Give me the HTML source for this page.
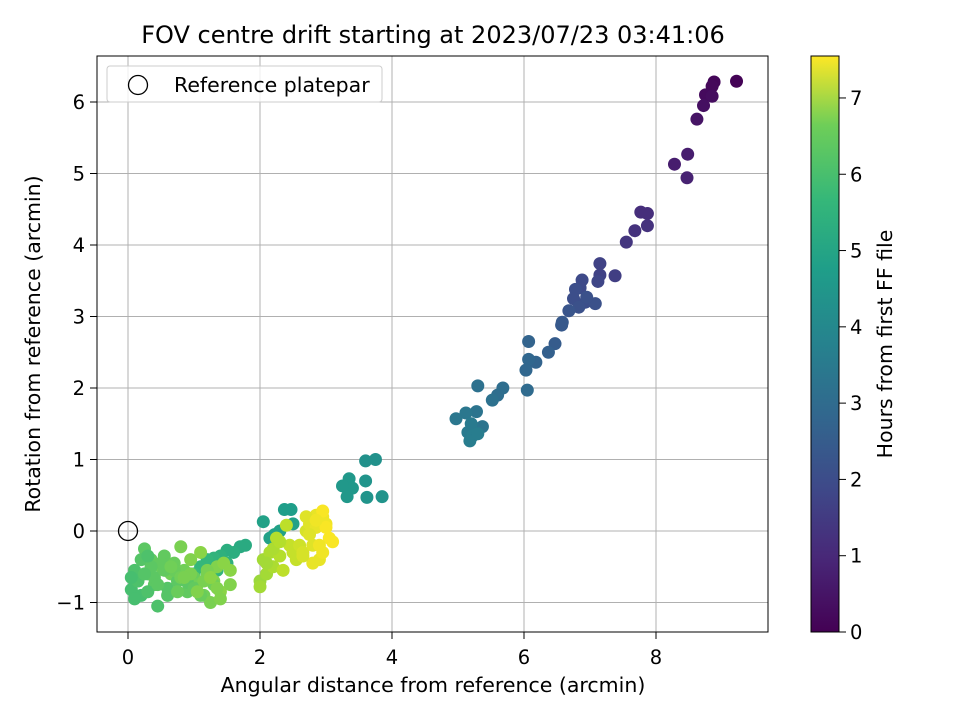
<!DOCTYPE html>
<html><head><meta charset="utf-8"><style>
body{margin:0;background:#fff;font-family:"DejaVu Sans","Liberation Sans",sans-serif}
</style></head><body>
<svg id="chart" width="960" height="720" xmlns="http://www.w3.org/2000/svg" font-family="DejaVu Sans, Liberation Sans, sans-serif">
<defs><linearGradient id="cb" x1="0" y1="1" x2="0" y2="0">
<stop offset="0" stop-color="#440154"/><stop offset="0.13" stop-color="#482878"/><stop offset="0.25" stop-color="#3e4989"/><stop offset="0.38" stop-color="#31688e"/><stop offset="0.5" stop-color="#26828e"/><stop offset="0.63" stop-color="#1f9e89"/><stop offset="0.75" stop-color="#35b779"/><stop offset="0.88" stop-color="#6ece58"/><stop offset="1" stop-color="#fde725"/></linearGradient></defs>
<text x="433" y="43" font-size="24" text-anchor="middle">FOV centre drift starting at 2023/07/23 03:41:06</text>
<g id="grid"></g>
<g id="marks"></g>
<rect x="97" y="56" width="671" height="576" fill="none" stroke="#000" stroke-width="1"/>
<g id="axes"></g>
<text x="433" y="692" font-size="20.5" text-anchor="middle">Angular distance from reference (arcmin)</text>
<text transform="translate(40,344) rotate(-90)" font-size="20.5" text-anchor="middle">Rotation from reference (arcmin)</text>
<g>
<rect x="107" y="66" width="275" height="36" rx="3" fill="#fff" fill-opacity="0.8" stroke="#ccc"/>
<circle cx="138" cy="85" r="9.5" fill="none" stroke="#000" stroke-width="1.3"/>
<text x="174" y="92" font-size="20.5">Reference platepar</text>
</g>
<rect x="811" y="56" width="28" height="576" fill="url(#cb)" stroke="#000"/>
<g id="cbaxis"></g>
<text transform="translate(892,344) rotate(-90)" font-size="20.5" text-anchor="middle">Hours from first FF file</text>
</svg>
<script>
const xTicks=[0,2,4,6,8];
const yTicks=[-1,0,1,2,3,4,5,6];
const cTicks=[0,1,2,3,4,5,6,7];
const xs=[9.22,8.88,8.85,8.75,8.85,8.72,8.62,8.28,8.48,8.47,7.87,7.77,7.68,7.87,7.55,7.38,7.15,7.15,7.12,6.88,6.85,6.78,6.75,6.93,7.08,6.83,6.95,6.68,6.58,6.57,6.47,6.37,6.07,6.18,6.07,6.03,6.05,5.68,5.6,5.52,5.3,5.37,5.28,5.12,4.97,5.2,5.15,5.22,5.18,5.3,
3.75,3.6,3.85,3.62,3.6,3.35,3.4,3.25,3.32,2.47,2.37,2.22,2.05,2.5,2.3,2.15,
1.78,1.7,1.6,1.5,1.4,1.3,1.2,1.1,1.0,1.5,1.35,1.25,
0.05,0.1,0.15,0.2,0.25,0.3,0.35,0.4,0.45,0.5,0.55,0.6,0.65,0.7,0.75,0.8,0.85,0.9,0.95,1.0,1.05,1.1,1.15,1.2,1.25,1.3,1.35,1.4,1.45,1.55,
0.1,0.2,0.3,0.4,0.5,0.6,0.7,0.8,0.9,1.0,1.1,1.2,1.3,1.4,0.15,0.35,0.55,0.75,0.95,1.15,1.35,1.55,0.25,0.45,0.65,0.85,1.05,1.25,0.05,0.3,
2.0,2.05,2.1,2.15,2.2,2.25,2.3,2.35,2.4,2.45,2.1,2.2,2.3,2.5,2.55,2.6,2.0,
2.65,2.7,2.75,2.8,2.85,2.9,2.95,3.0,3.05,3.1,2.75,2.85,2.95,2.8,2.9,3.0,2.7,2.95,2.85,2.65];
const ys=[6.29,6.28,6.22,6.1,6.08,5.95,5.76,5.13,5.27,4.94,4.44,4.46,4.2,4.27,4.04,3.57,3.74,3.58,3.49,3.51,3.4,3.38,3.25,3.2,3.18,3.13,3.27,3.08,2.92,2.88,2.62,2.5,2.65,2.36,2.4,2.25,1.97,2.0,1.9,1.83,2.03,1.46,1.67,1.65,1.57,1.5,1.38,1.33,1.26,1.36,
1.0,0.98,0.48,0.47,0.7,0.73,0.6,0.63,0.48,0.3,0.3,-0.05,0.13,0.1,0.0,-0.1,
-0.2,-0.22,-0.3,-0.27,-0.35,-0.38,-0.4,-0.5,-0.6,-0.45,-0.55,-0.65,
-0.82,-0.55,-0.7,-0.9,-0.25,-0.6,-0.4,-0.75,-1.05,-0.5,-0.35,-0.8,-0.6,-0.45,-0.7,-0.22,-0.55,-0.85,-0.4,-0.65,-0.75,-0.3,-0.9,-0.6,-1.0,-0.7,-0.5,-0.85,-0.45,-0.75,
-0.95,-0.4,-0.85,-0.65,-0.45,-0.9,-0.55,-0.65,-0.72,-0.8,-0.9,-0.55,-0.75,-0.95,-0.7,-0.5,-0.55,-0.85,-0.6,-0.7,-0.8,-0.55,-0.6,-0.75,-0.5,-0.65,-0.85,-0.65,-0.65,-0.35,
-0.7,-0.4,-0.6,-0.3,-0.5,-0.1,-0.35,-0.55,0.08,-0.2,-0.45,-0.25,-0.15,-0.3,-0.4,-0.2,-0.78,
-0.3,0.0,0.1,-0.2,0.05,-0.4,0.2,0.1,-0.1,-0.15,-0.05,0.22,-0.3,-0.45,-0.2,0.05,0.2,0.28,0.15,-0.35];
const hs=[0.05,0.1,0.15,0.2,0.25,0.3,0.4,0.6,0.6,0.7,1.0,1.0,1.1,1.1,1.2,1.4,1.5,1.5,1.6,1.7,1.7,1.8,1.8,1.8,1.9,1.9,1.9,2.0,2.1,2.1,2.2,2.3,2.4,2.4,2.5,2.5,2.6,2.7,2.7,2.8,2.8,2.9,2.9,3.0,3.0,3.1,3.1,3.2,3.2,3.2,
3.8,3.8,3.9,3.9,3.9,4.0,4.0,4.0,4.0,4.2,4.2,4.3,4.3,4.3,4.3,4.3,
4.6,4.6,4.7,4.7,4.8,4.9,5.0,5.0,5.1,4.8,4.9,5.0,
5.3,5.4,5.5,5.3,5.6,5.5,5.7,5.6,5.4,5.8,5.7,5.5,5.9,5.8,5.6,6.0,5.9,5.7,6.1,5.8,5.9,6.2,5.9,6.0,6.0,6.1,6.1,6.2,6.2,6.1,
5.3,5.5,5.4,5.6,5.7,5.5,5.8,5.9,5.6,5.7,5.8,6.0,5.9,6.1,5.4,5.6,5.7,5.8,6.0,6.0,6.1,6.2,5.5,5.6,5.9,6.0,6.1,6.2,5.3,5.4,
6.4,6.5,6.5,6.6,6.6,6.7,6.7,6.8,6.8,6.9,6.5,6.6,6.7,6.9,6.9,7.0,6.5,
7.1,7.1,7.2,7.2,7.3,7.3,7.4,7.4,7.5,7.5,7.2,7.3,7.4,7.3,7.4,7.5,7.2,7.5,7.4,7.1];
const NS="http://www.w3.org/2000/svg";
const sx=v=>128+v*66, sy=v=>531-v*71.5, sc=v=>632-v*576/7.55;
const vir=[[68,1,84],[72,40,120],[62,73,137],[49,104,142],[38,130,142],[31,158,137],[53,183,121],[110,206,88],[181,222,43],[253,231,37]];
function cmap(h){let t=Math.max(0,Math.min(1,h/7.55))*(vir.length-1);let i=Math.min(vir.length-2,Math.floor(t)),f=t-i;
return 'rgb('+vir[i].map((c,k)=>Math.round(c+(vir[i+1][k]-c)*f)).join(',')+')';}
function mk(tag,a,p){const e=document.createElementNS(NS,tag);for(const k in a)e.setAttribute(k,a[k]);p.appendChild(e);return e;}
const grid=document.getElementById('grid'),axes=document.getElementById('axes'),marks=document.getElementById('marks'),cba=document.getElementById('cbaxis');
xTicks.forEach(v=>{const x=sx(v);
const g=mk('line',{x1:x,x2:x,y1:56,y2:632,stroke:'#b0b0b0','stroke-width':1},grid);


mk('line',{x1:x,x2:x,y1:632,y2:639,stroke:'#000'},axes);
const t=mk('text',{x:x,y:664,'font-size':19.5,'text-anchor':'middle'},axes);t.textContent=v;

});
yTicks.forEach(v=>{const y=sy(v);
const g=mk('line',{x1:97,x2:768,y1:y,y2:y,stroke:'#b0b0b0','stroke-width':1},grid);


mk('line',{x1:90,x2:97,y1:y,y2:y,stroke:'#000'},axes);
const t=mk('text',{x:85,y:y+7,'font-size':19.5,'text-anchor':'end'},axes);t.textContent=v<0?'\u22121':v;

});
cTicks.forEach(v=>{const y=sc(v);
mk('line',{x1:839,x2:846,y1:y,y2:y,stroke:'#000'},cba);
const t=mk('text',{x:850,y:y+7,'font-size':19.5},cba);t.textContent=v;

});
xs.forEach((x,i)=>{const c=mk('circle',{cx:sx(x),cy:sy(ys[i]),r:6.5,fill:cmap(hs[i])},marks);

});
const r=mk('circle',{cx:sx(0),cy:sy(0),r:9.5,fill:'none',stroke:'#000','stroke-width':1.3},marks);


</script>
</body></html>
